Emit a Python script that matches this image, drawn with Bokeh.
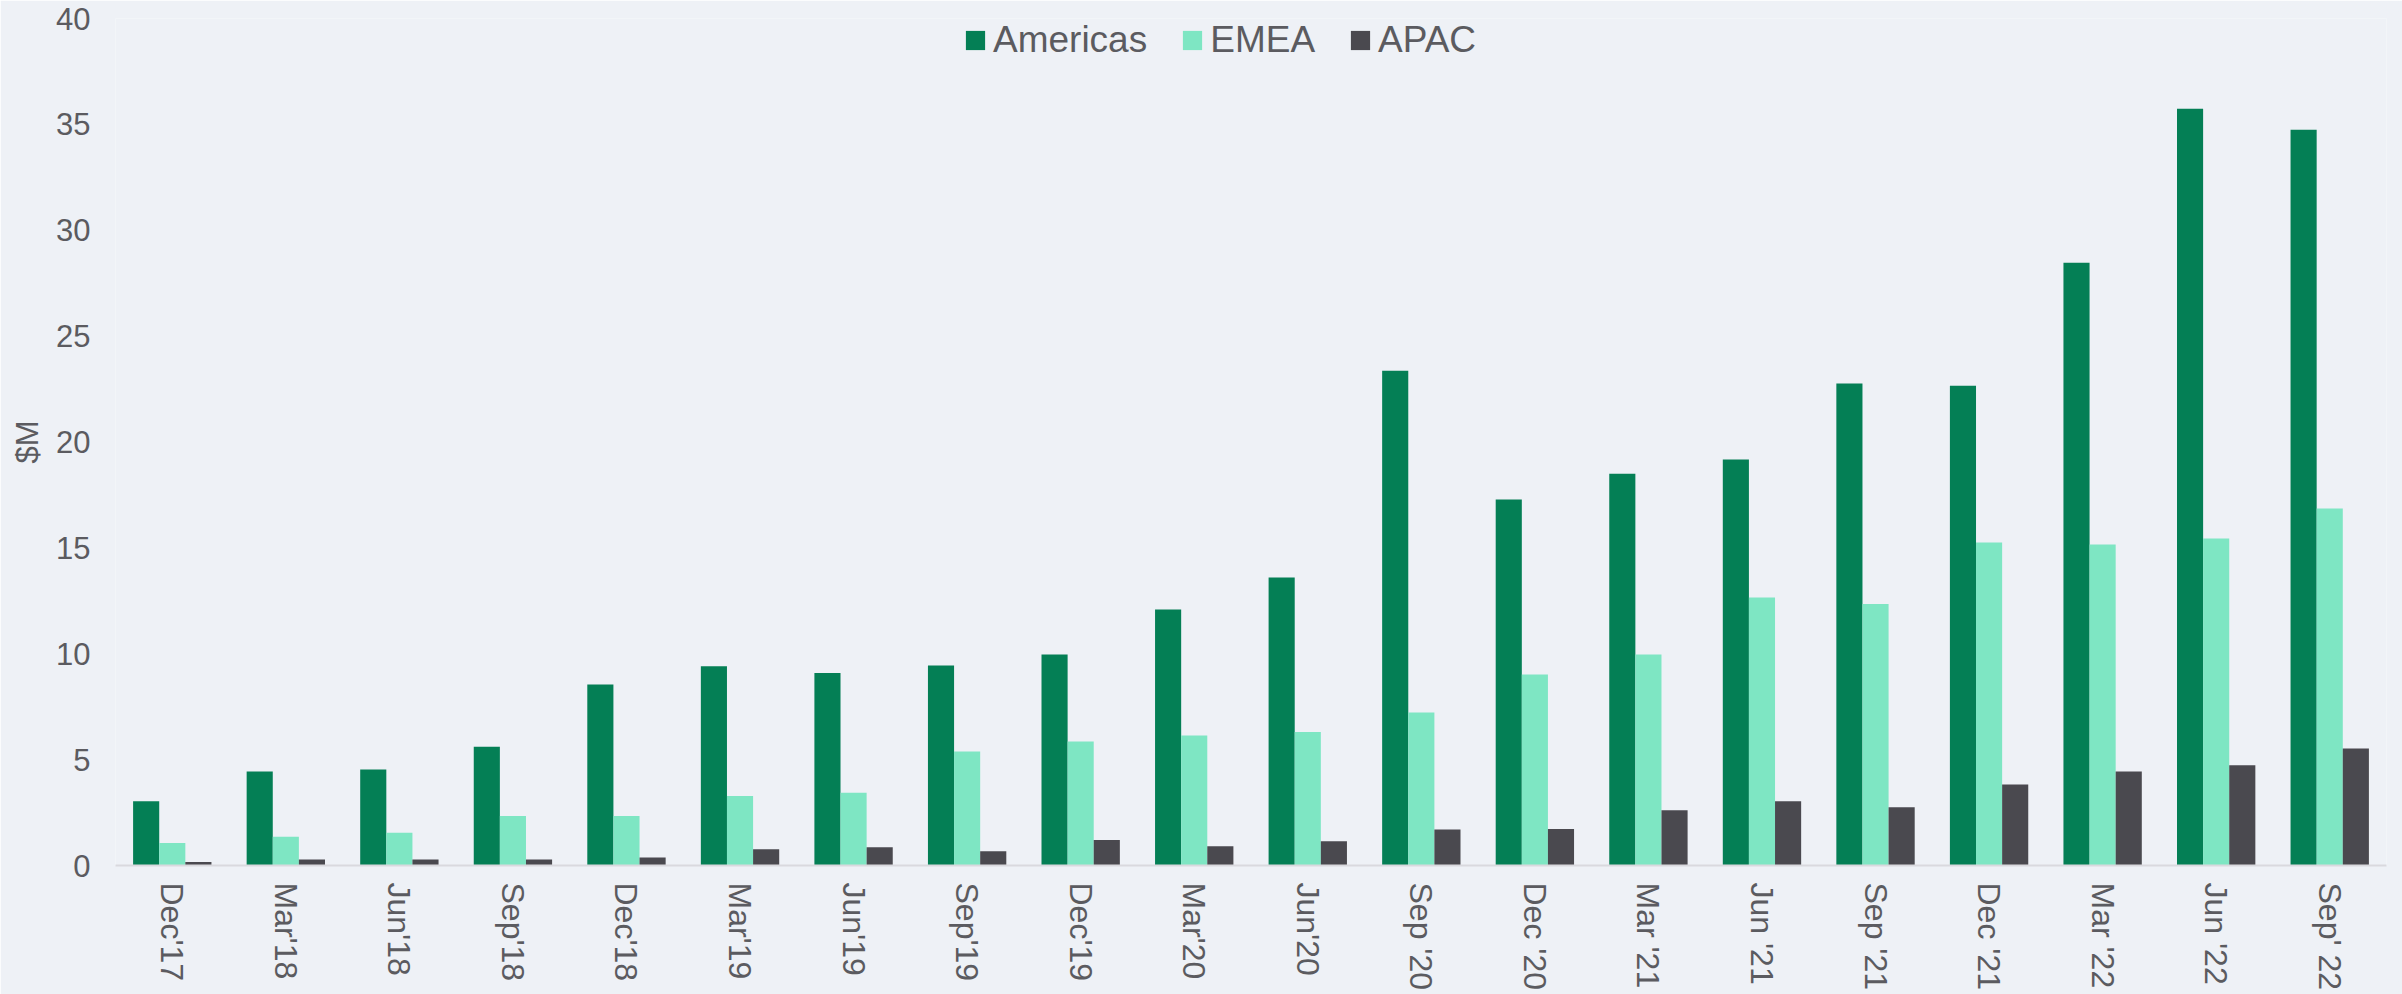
import math
from bokeh.plotting import figure
from bokeh.models import ColumnDataSource, FactorRange, Range1d, FixedTicker
from bokeh.transform import dodge
from bokeh.embed import file_html
from bokeh.resources import INLINE

quarters = ["Dec'17", "Mar'18", "Jun'18", "Sep'18", "Dec'18", "Mar'19", "Jun'19",
            "Sep'19", "Dec'19", "Mar'20", "Jun'20", "Sep '20", "Dec '20", "Mar '21",
            "Jun '21", "Sep '21", "Dec '21", "Mar '22", "Jun '22", "Sep' 22"]
americas = [3.03, 4.44, 4.53, 5.61, 8.55, 9.41, 9.09, 9.45, 9.96, 12.09, 13.6, 23.37,
            17.28, 18.5, 19.17, 22.76, 22.66, 28.47, 35.74, 34.75]
emea = [1.06, 1.36, 1.55, 2.34, 2.34, 3.28, 3.44, 5.38, 5.86, 6.14, 6.31, 7.22,
        9.02, 9.96, 12.66, 12.35, 15.25, 15.16, 15.44, 16.86]
apac = [0.17, 0.28, 0.28, 0.28, 0.38, 0.77, 0.86, 0.67, 1.2, 0.91, 1.14, 1.70,
        1.72, 2.61, 3.03, 2.75, 3.83, 4.44, 4.73, 5.53]
series_names = ["Americas", "EMEA", "APAC"]
y_ticks = [0, 5, 10, 15, 20, 25, 30, 35, 40]

BG = "#EEF1F6"
TXT = "#5B5B60"
FONT = "Liberation Sans"
colors = ["#047F55", "#7EE6C3", "#4A494F"]

source = ColumnDataSource(dict(q=quarters, americas=americas, emea=emea, apac=apac))

p = figure(width=2402, height=994, x_range=FactorRange(*quarters),
           y_range=Range1d(0, 40), output_backend="svg", toolbar_location=None,
           min_border_left=115, min_border_right=16, min_border_top=18,
           min_border_bottom=129)

bw = 0.23
for off, col, name, c in zip([-bw, 0, bw], ["americas", "emea", "apac"], series_names, colors):
    p.vbar(x=dodge("q", off, range=p.x_range), top=col, width=bw, source=source,
           fill_color=c, line_color=None, legend_label=name)

p.background_fill_color = BG
p.border_fill_color = BG
p.outline_line_color = None
p.xgrid.grid_line_color = None
p.ygrid.grid_line_color = None

p.yaxis.ticker = FixedTicker(ticks=y_ticks)
p.yaxis.axis_line_color = None
p.yaxis.major_tick_line_color = None
p.yaxis.minor_tick_line_color = None
p.yaxis.major_tick_out = 0
p.yaxis.major_tick_in = 0
p.yaxis.major_label_standoff = 25
p.yaxis.major_label_text_font = FONT
p.yaxis.major_label_text_font_size = "31px"
p.yaxis.major_label_text_color = TXT
p.yaxis.axis_label = "$M"
p.yaxis.axis_label_text_font = FONT
p.yaxis.axis_label_text_font_size = "31px"
p.yaxis.axis_label_text_font_style = "normal"
p.yaxis.axis_label_text_color = TXT
p.yaxis.axis_label_standoff = 8

p.xaxis.axis_line_color = "#D9D9DE"
p.xaxis.axis_line_width = 2
p.xaxis.major_tick_line_color = None
p.xaxis.minor_tick_line_color = None
p.xaxis.major_tick_out = 0
p.xaxis.major_tick_in = 0
p.xaxis.major_label_standoff = 17
p.xaxis.major_label_orientation = -math.pi / 2
p.xaxis.major_label_text_font = FONT
p.xaxis.major_label_text_font_size = "32px"
p.xaxis.major_label_text_color = TXT

lg = p.legend[0]
lg.orientation = "horizontal"
lg.location = (848, 804)
lg.padding = 0
lg.margin = 0
lg.glyph_width = 24
lg.glyph_height = 24
lg.label_standoff = 6
lg.spacing = 33
lg.label_text_font = FONT
lg.label_text_font_size = "37px"
lg.label_text_color = TXT
lg.background_fill_alpha = 0
lg.border_line_color = None

html = file_html(p, INLINE)
html = html.replace("<body>", '<body style="background:%s">' % BG, 1)
open("out.html", "w").write(html)
